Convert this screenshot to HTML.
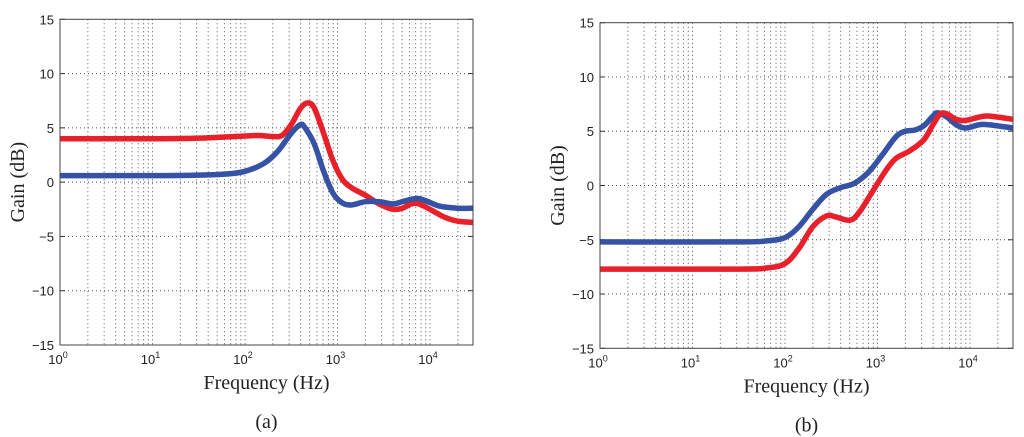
<!DOCTYPE html>
<html><head><meta charset="utf-8"><style>
body{margin:0;background:#fff;width:1024px;height:437px;overflow:hidden}
svg{display:block}
.tk{font-family:"Liberation Sans",sans-serif;font-size:13px;fill:#222}
.ax{font-family:"Liberation Serif",serif;font-size:20px;fill:#222}
</style></head><body>
<svg id="s" width="1024" height="437"></svg>
<script>
const yTicks=[-15,-10,-5,0,5,10,15];
const xDecades=[0,1,2,3,4];
const aRedX=[0,1,1.5,2,2.15,2.3,2.4,2.5,2.6,2.68,2.75,2.85,2.95,3.05,3.15,3.3,3.45,3.6,3.7,3.8,3.88,4.0,4.15,4.3,4.465];
const aRedY=[4.0,4.0,4.05,4.25,4.3,4.2,4.3,5.3,6.8,7.3,6.8,4.5,2,0.3,-0.5,-1.2,-2,-2.5,-2.4,-2.0,-2.0,-2.5,-3.2,-3.6,-3.7];
const aBlueX=[0,1,1.5,1.8,2,2.2,2.35,2.5,2.6,2.65,2.75,2.85,2.95,3.05,3.15,3.3,3.45,3.6,3.7,3.85,3.95,4.1,4.3,4.465];
const aBlueY=[0.6,0.6,0.65,0.75,1.0,1.7,2.8,4.5,5.3,5.0,3.5,1.0,-1.0,-1.9,-2.1,-1.8,-1.8,-2.0,-1.8,-1.5,-1.7,-2.2,-2.4,-2.4];
const bBlueX=[0,1.5,1.8,2,2.15,2.3,2.45,2.6,2.75,2.9,3.05,3.2,3.3,3.4,3.5,3.6,3.65,3.75,3.85,3.95,4.1,4.2,4.465];
const bBlueY=[-5.2,-5.2,-5.1,-4.8,-3.8,-2.2,-0.8,-0.2,0.2,1.2,2.8,4.5,5.0,5.1,5.5,6.4,6.7,6.3,5.6,5.3,5.6,5.6,5.3];
const bRedX=[0,1.5,1.8,2,2.15,2.3,2.45,2.55,2.7,2.8,2.95,3.1,3.2,3.35,3.5,3.6,3.68,3.75,3.85,3.95,4.1,4.2,4.465];
const bRedY=[-7.7,-7.7,-7.6,-7.2,-5.8,-3.8,-2.8,-2.9,-3.2,-2.5,-0.5,1.5,2.5,3.2,4.2,5.6,6.6,6.6,6.1,6.0,6.3,6.4,6.1];
const NS='http://www.w3.org/2000/svg';
const svg=document.getElementById('s');
function mk(t,a,p){const e=document.createElementNS(NS,t);for(const k in a)e.setAttribute(k,a[k]);(p||svg).appendChild(e);return e;}
function path(xs,ys,X,Y){const P=xs.map((x,i)=>[X(x),Y(ys[i])]);let d='M'+P[0][0]+','+P[0][1];
for(let i=0;i<P.length-1;i++){const p0=P[Math.max(i-1,0)],p1=P[i],p2=P[i+1],p3=P[Math.min(i+2,P.length-1)];
d+=' C'+(p1[0]+(p2[0]-p0[0])/6)+','+(p1[1]+(p2[1]-p0[1])/6)+' '+(p2[0]-(p3[0]-p1[0])/6)+','+(p2[1]-(p3[1]-p1[1])/6)+' '+p2[0]+','+p2[1];}return d;}
function panel(name,L,R,T,B,label,series){
  const g=mk('g',{});
  const xmax=4.465;const X=v=>L+(R-L)*v/xmax;const Y=v=>B-(B-T)*(v+15)/30;
  for(let d=0;d<5;d++)for(let m=1;m<=9;m++){const v=d+Math.log10(m);if(v>xmax||v===0)continue;
    const l=mk('line',{x1:X(v),x2:X(v),y1:T,y2:B,stroke:'#555','stroke-width':1,'stroke-dasharray':'1,3'},g);}
  yTicks.forEach(v=>{if(v>-15&&v<15){const l=mk('line',{x1:L,x2:R,y1:Y(v),y2:Y(v),stroke:'#555','stroke-width':1,'stroke-dasharray':'1,3'},g);}
    mk('line',{x1:L,x2:L+5,y1:Y(v),y2:Y(v),stroke:'#333'},g);mk('line',{x1:R,x2:R-5,y1:Y(v),y2:Y(v),stroke:'#333'},g);
    const t=mk('text',{x:L-6,y:Y(v)+5,'text-anchor':'end',class:'tk'},g);t.textContent=(v<0?'\u2212':'')+Math.abs(v);});
  xDecades.forEach(d=>{const t=mk('text',{x:X(d)-2,y:B+19,'text-anchor':'middle',class:'tk'},g);
    t.textContent='10';const s=mk('tspan',{dy:-6,'font-size':9},t);s.textContent=d;});
  series.forEach(s=>{const p=mk('path',{d:path(s[0],s[1],X,Y),fill:'none',stroke:s[2],'stroke-width':5.5,'stroke-linejoin':'round'},g);});
  const fr=mk('rect',{x:L,y:T,width:R-L,height:B-T,fill:'none',stroke:'#444','stroke-width':1},g);
  const xt=mk('text',{x:(L+R)/2,y:B+44,'text-anchor':'middle',class:'ax'},g);xt.textContent='Frequency (Hz)';
  const yt=mk('text',{x:0,y:0,'text-anchor':'middle',class:'ax',transform:'translate('+(L-36)+','+((T+B)/2)+') rotate(-90)'},g);yt.textContent='Gain (dB)';
  const cp=mk('text',{x:(L+R)/2,y:B+83,'text-anchor':'middle',class:'ax'},g);cp.textContent=label;
}
panel('panel-a',60,473,19.3,345,'(a)',[[aBlueX,aBlueY,'#3552a5','blue-series'],[aRedX,aRedY,'#e8202a','red-series']].reverse());
panel('panel-b',600,1013,22.7,348.3,'(b)',[[bBlueX,bBlueY,'#3552a5','blue-series'],[bRedX,bRedY,'#e8202a','red-series']]);
</script>
</body></html>
